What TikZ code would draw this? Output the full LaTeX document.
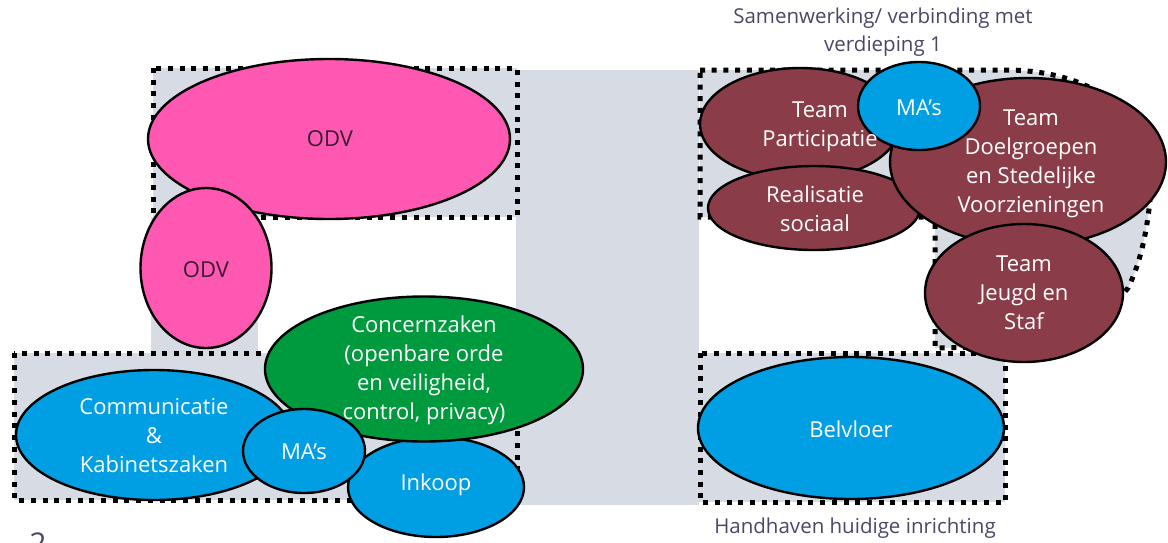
\documentclass[tikz,border=0pt]{standalone}
\usepackage{fontspec}
\setmainfont{Open Sans}
\usetikzlibrary{shapes.geometric}
\definecolor{greyfill}{HTML}{D6DBE4}
\definecolor{odvpink}{HTML}{FF58B2}
\definecolor{teamblue}{HTML}{009FE3}
\definecolor{concgreen}{HTML}{009A3E}
\definecolor{maroon}{HTML}{8A3D48}
\definecolor{captxt}{HTML}{4B4766}
\definecolor{odvtxt}{HTML}{3A1C30}
\begin{document}
\begin{tikzpicture}[x=1pt,y=-1pt,
  blob/.style={ellipse, draw=black, line width=2.4pt, inner sep=0pt},
  dotbox/.style={draw=black, line width=5pt, dash pattern=on 5pt off 6.7pt},
  greybg/.style={fill=greyfill},
  lbl/.style={align=center, text=white, font=\fontsize{22}{29}\selectfont, inner sep=0pt},
  caption/.style={align=center, text=captxt, font=\fontsize{20.5}{28}\selectfont, inner sep=0pt}]
\useasboundingbox (0,0) rectangle (1168,542);
\clip (0,0) rectangle (1168,542);
% grey backgrounds
\path[greybg] (153,68) rectangle (517,217);
\path[greybg] (516,70) rectangle (699,505);
\path[greybg] (151,217) rectangle (258,353);
\path[greybg] (14,353) rectangle (517,500);
\path[greybg] (698,353) rectangle (1005,502);
\path[greybg] (700,70) -- (1010,70) .. controls (1100,72) and (1160,120) .. (1150,200) .. controls (1146,240) and (1138,268) .. (1128,288) -- (1080,345) -- (935,348) -- (935,217) -- (700,217) -- cycle;
% dotted outlines
\draw[dotbox] (153,68) rectangle (517,217);
\draw[dotbox] (14,353) rectangle (517,500);
\draw[dotbox] (700,353) rectangle (1005,502);
\draw[dotbox] (700,70) -- (1010,70) .. controls (1100,72) and (1160,120) .. (1150,200) .. controls (1146,240) and (1138,268) .. (1128,288) -- (1080,345) -- (935,348) -- (935,217) -- (700,217) -- cycle;
% left group
\node[blob, fill=odvpink, minimum width=362pt, minimum height=160pt] (odvA) at (329,139) {};
\node[blob, fill=odvpink, minimum width=131pt, minimum height=160pt] (odvB) at (206,268) {};
\node[blob, fill=teamblue, minimum width=276pt, minimum height=130pt] (comm) at (154,435) {};
\node[blob, fill=teamblue, minimum width=176pt, minimum height=100pt] (inkoop) at (436,487) {};
\node[blob, fill=concgreen, minimum width=318pt, minimum height=145pt] (conc) at (424,369) {};
\node[blob, fill=teamblue, minimum width=122pt, minimum height=84pt] (masL) at (304,451) {};
% right group
\node[blob, fill=maroon, minimum width=200pt, minimum height=112pt] (part) at (800,124) {};
\node[blob, fill=maroon, minimum width=212pt, minimum height=84pt] (real) at (814,208) {};
\node[blob, fill=maroon, minimum width=276pt, minimum height=168pt] (doel) at (1028,162) {};
\node[blob, fill=teamblue, minimum width=122pt, minimum height=88pt] (masR) at (919,106) {};
\node[blob, fill=maroon, minimum width=198pt, minimum height=138pt] (jeugd) at (1024,293) {};
\node[blob, fill=teamblue, minimum width=306pt, minimum height=142pt] (bel) at (851,428) {};
% labels
\node[lbl, text=odvtxt] (tOdvA) at (330,139) {ODV};
\node[lbl, text=odvtxt] (tOdvB) at (206,270) {ODV};
\node[lbl] (tComm) at (154,436) {Communicatie\\\&\\Kabinetszaken};
\node[lbl] (tConc) at (424,370) {Concernzaken\\(openbare orde\\en veiligheid,\\control, privacy)};
\node[lbl] (tMasL) at (304,452) {MA’s};
\node[lbl] (tInk) at (436,485) {Inkoop};
\node[lbl] (tPart) at (820,127) {Team\\Participatie};
\node[lbl] (tReal) at (815,209) {Realisatie\\sociaal};
\node[lbl] (tMasR) at (919,108) {MA’s};
\node[lbl] (tDoel) at (1031,164) {Team\\Doelgroepen\\en Stedelijke\\Voorzieningen};
\node[lbl] (tJeugd) at (1024,293) {Team\\Jeugd en\\Staf};
\node[lbl] (tBel) at (851,429) {Belvloer};
\node[caption] (capTop) at (883,32) {Samenwerking/ verbinding met\\verdieping 1};
\node[caption] (capBot) at (855,528) {Handhaven huidige inrichting};
\node[text=captxt, font=\fontsize{30}{30}\selectfont, inner sep=0pt, anchor=base] (pnum) at (38,554) {2};
\end{tikzpicture}
\end{document}
